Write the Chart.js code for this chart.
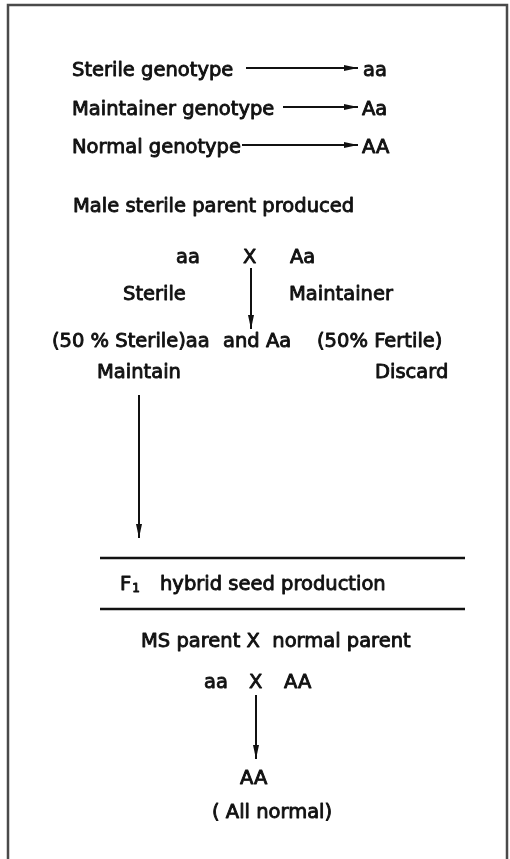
<!DOCTYPE html>
<html>
<head>
<meta charset="utf-8">
<script src="https://cdn.jsdelivr.net/npm/chart.js@4/dist/chart.umd.min.js"></script>
<style>
  html, body { margin: 0; padding: 0; background: #fff; }
  canvas { display: block; }
</style>
</head>
<body>
<canvas id="esquema" width="510" height="859"></canvas>
<script>
// textos del diagrama y su posicion (unidades del diagrama: x 0-510, y 0-859, y hacia abajo)
const TEXTOS = ['Sterile genotype', 'Maintainer genotype', 'Normal genotype', 'aa', 'Aa', 'AA',
  'Male sterile parent produced',
  'aa', 'X', 'Aa', 'Sterile', 'Maintainer',
  '(50 % Sterile)aa', 'and Aa', '(50% Fertile)', 'Maintain', 'Discard',
  'F', 'hybrid seed production', 'MS parent X  normal parent',
  'aa', 'X', 'AA', 'AA', '( All normal)']
const TEXTO_X = [72, 72, 72, 363, 362, 362, 73, 176, 243, 290, 123, 289, 52, 223, 317, 97, 375, 120, 160, 141, 204, 249, 284, 240, 212]
const TEXTO_Y = [76, 115, 153, 76, 115, 153, 212, 263, 263, 263, 300, 300, 347, 347, 347, 378, 378, 590, 590, 647, 688, 688, 688, 784, 818]

// flechas: inicio -> punta
const FLECHA_X1 = [246, 283, 242, 251, 139, 256]
const FLECHA_Y1 = [68, 107, 145, 268, 395, 695]
const FLECHA_X2 = [358, 358, 358, 251, 139, 256]
const FLECHA_Y2 = [68, 107, 145, 329, 538, 759]

// lineas horizontales de la seccion F1
const REGLA_X1 = [100, 100]
const REGLA_X2 = [465, 465]
const REGLA_Y = [558, 609]

// marco
const MARCO_X = [8, 8, 507, 507]
const MARCO_Y = [859, 5, 5, 859]

const FUENTE = '"DejaVu Sans", Lato, sans-serif'

const datasets = []

datasets.push({
  data: MARCO_X.map((x, i) => ({ x: x, y: MARCO_Y[i] })),
  borderColor: '#4a4a4a', borderWidth: 2.5, pointRadius: 0, showLine: true, tension: 0
})

REGLA_Y.forEach((y, i) => {
  datasets.push({
    data: [{ x: REGLA_X1[i], y: y }, { x: REGLA_X2[i], y: y }],
    borderColor: '#111', borderWidth: 2.5, pointRadius: 0, showLine: true
  })
})

FLECHA_X1.forEach((x, i) => {
  datasets.push({
    data: [{ x: x, y: FLECHA_Y1[i] }, { x: FLECHA_X2[i], y: FLECHA_Y2[i] }],
    borderColor: '#111', borderWidth: 2, pointRadius: 0, showLine: true, flecha: true
  })
})

// puntas de flecha y textos
const pluginEsquema = {
  id: 'esquema',
  afterDatasetsDraw(chart) {
    const ctx = chart.ctx
    const sx = chart.scales.x
    const sy = chart.scales.y

    ctx.save()
    ctx.fillStyle = '#111'
    ctx.strokeStyle = '#111'
    chart.data.datasets.forEach(ds => {
      if (!ds.flecha) return
      const a = ds.data[0], b = ds.data[1]
      const x1 = sx.getPixelForValue(a.x), y1 = sy.getPixelForValue(a.y)
      const x2 = sx.getPixelForValue(b.x), y2 = sy.getPixelForValue(b.y)
      const ang = Math.atan2(y2 - y1, x2 - x1)
      const largo = 14, ancho = 3
      ctx.translate(x2, y2)
      ctx.rotate(ang)
      ctx.beginPath()
      ctx.moveTo(0, 0)
      ctx.lineTo(-largo, -ancho)
      ctx.lineTo(-largo, ancho)
      ctx.closePath()
      ctx.fill()
      ctx.setTransform(1, 0, 0, 1, 0, 0)
    })

    ctx.textAlign = 'left'
    ctx.textBaseline = 'alphabetic'
    ctx.lineWidth = 0.9
    ctx.lineJoin = 'round'
    TEXTOS.forEach((t, i) => {
      ctx.font = '19.5px ' + FUENTE
      const px = sx.getPixelForValue(TEXTO_X[i])
      const py = sy.getPixelForValue(TEXTO_Y[i])
      ctx.fillText(t, px, py)
      ctx.strokeText(t, px, py)
      if (t === 'F') {
        // subindice del F1
        const w = ctx.measureText('F').width
        ctx.font = '12px ' + FUENTE
        ctx.fillText('1', px + w + 1, py + 2)
        ctx.strokeText('1', px + w + 1, py + 2)
      }
    })
    ctx.restore()
  }
}

new Chart(document.getElementById('esquema'), {
  type: 'scatter',
  data: { datasets: datasets },
  options: {
    responsive: false,
    animation: false,
    layout: { padding: 0 },
    plugins: { legend: { display: false }, tooltip: { enabled: false } },
    scales: {
      x: { type: 'linear', min: 0, max: 510, display: false },
      y: { type: 'linear', min: 0, max: 859, reverse: true, display: false }
    }
  },
  plugins: [pluginEsquema]
})
</script>
</body>
</html>
